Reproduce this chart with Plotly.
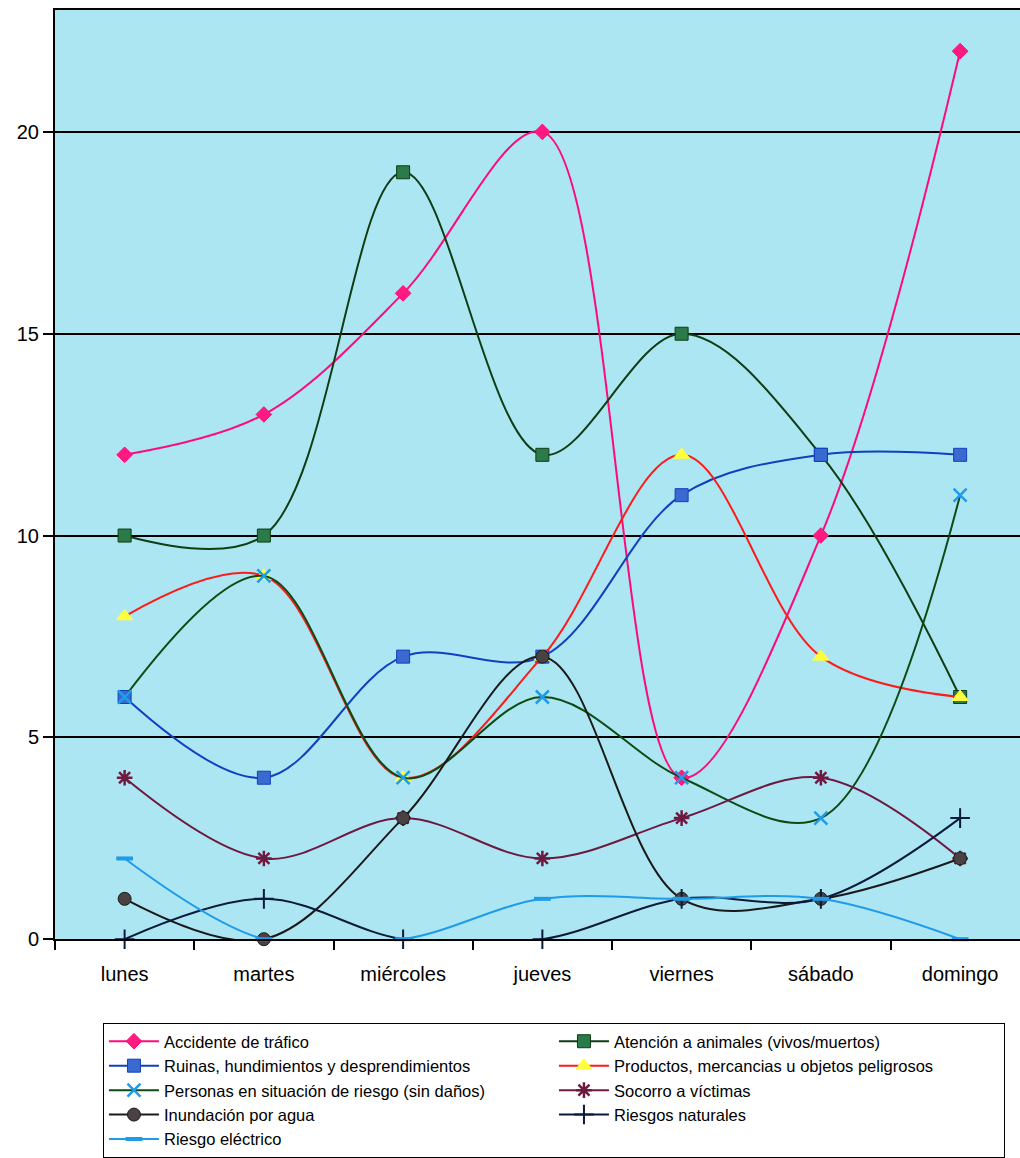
import plotly.graph_objects as go

dias = ["lunes", "martes", "miércoles", "jueves", "viernes", "sábado", "domingo"]

accidente = [12, 13, 16, 20, 4, 10, 22]
animales = [10, 10, 19, 12, 15, 12, 6]
ruinas = [6, 4, 7, 7, 11, 12, 12]
productos = [8, 9, 4, 7, 12, 7, 6]
personas = [6, 9, 4, 6, 4, 3, 11]
socorro = [4, 2, 3, 2, 3, 4, 2]
inundacion = [1, 0, 3, 7, 1, 1, 2]
naturales = [0, 1, 0, 0, 1, 1, 3]
electrico = [2, 0, 0, 1, 1, 1, 0]

y_ticks = [0, 5, 10, 15, 20]

series = [
    ("Accidente de tráfico", accidente, "#ff0a7a", dict(symbol="diamond", size=12, color="#ff1a80", line=dict(color="#ff0a7a", width=1))),
    ("Atención a animales (vivos/muertos)", animales, "#0f3d14", dict(symbol="square", size=13, color="#2a7a4a", line=dict(color="#0f3d14", width=1))),
    ("Ruinas, hundimientos y desprendimientos", ruinas, "#1040c0", dict(symbol="square", size=13, color="#3a6ad0", line=dict(color="#1040c0", width=1))),
    ("Productos, mercancias u objetos peligrosos", productos, "#ff1a1a", dict(symbol="triangle-up", size=14, color="#ffff40", line=dict(color="#ffff40", width=1))),
    ("Personas en situación de riesgo (sin daños)", personas, "#0f4a14", dict(symbol="x-thin", size=13, color="#1e9be9", line=dict(color="#1e9be9", width=2.5))),
    ("Socorro a víctimas", socorro, "#6e1a40", dict(symbol="asterisk", size=13, color="#6e1a40", line=dict(color="#6e1a40", width=2.5))),
    ("Inundación por agua", inundacion, "#1a1a1a", dict(symbol="circle", size=13, color="#4a4242", line=dict(color="#1a1a1a", width=1))),
    ("Riesgos naturales", naturales, "#0a1a3a", dict(symbol="cross-thin", size=14, color="#0a1a3a", line=dict(color="#0a1a3a", width=2))),
    ("Riesgo eléctrico", electrico, "#1e9be9", dict(symbol="line-ew", size=12, color="#1e9be9", line=dict(color="#1e9be9", width=4))),
]

fig = go.Figure()
for name, vals, lc, mk in series:
    fig.add_trace(go.Scatter(
        x=dias, y=vals, name=name, mode="lines+markers",
        line=dict(color=lc, width=2, shape="spline", smoothing=1.0),
        marker=mk, cliponaxis=False,
    ))

H = 1158
T = 10
plot_h = H - T
y_bottom_px = 940
legend_top_px = 1024

fig.update_layout(
    width=1020, height=H,
    margin=dict(l=55, r=0, t=T, b=0),
    paper_bgcolor="white",
    plot_bgcolor="white",
    font=dict(family="Liberation Sans, Arial, sans-serif", color="black"),
    showlegend=True,
    legend=dict(
        orientation="h",
        x=0.0497, y=(H - legend_top_px) / plot_h, xanchor="left", yanchor="top",
        bgcolor="white", bordercolor="black", borderwidth=1,
        font=dict(size=16.5, family="Liberation Sans, Arial, sans-serif"),
        entrywidth=385, entrywidthmode="pixels",
        itemwidth=50,
        traceorder="normal",
    ),
)

# plot-area background only over the axis domain
dom_bottom = (H - y_bottom_px) / plot_h
fig.add_shape(type="rect", xref="paper", yref="paper", x0=0, x1=1, y0=dom_bottom, y1=1,
              fillcolor="#ace6f2", line=dict(width=0), layer="below")

fig.update_xaxes(
    type="category", range=[-0.5, 6.43],
    showgrid=False, showline=True, linecolor="black", linewidth=2,
    mirror=True, automargin=False,
    ticks="outside", ticklen=9, tickwidth=2, tickcolor="black",
    tickson="boundaries",
    tickfont=dict(size=20, family="Liberation Sans, Arial, sans-serif"),
    ticklabelstandoff=16,
)
fig.update_yaxes(
    range=[0, 23.02], domain=[dom_bottom, 1],
    tickvals=y_ticks,
    showgrid=True, gridcolor="black", gridwidth=2,
    zeroline=False, automargin=False,
    showline=True, linecolor="black", linewidth=2,
    ticks="outside", ticklen=10, tickwidth=2, tickcolor="black",
    tickfont=dict(size=20, family="Liberation Sans, Arial, sans-serif"),
)

fig.write_html(
    "out.html",
    config={"displayModeBar": False},
    post_script="document.body.style.margin='0';document.body.style.overflow='hidden';",
)
